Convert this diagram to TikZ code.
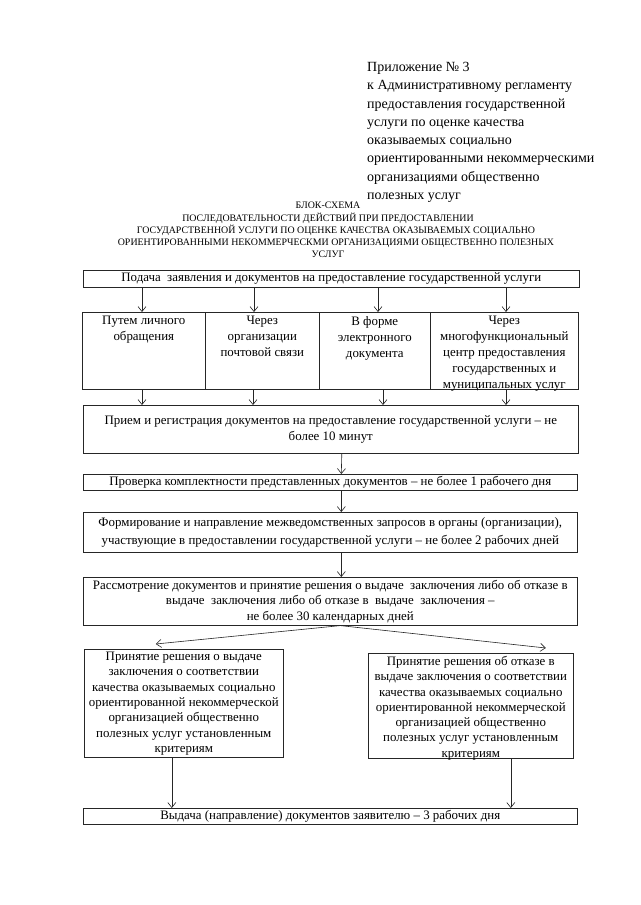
\documentclass[tikz,border=0pt]{standalone}
\usepackage{fontspec}
\setmainfont{Liberation Serif}
\usepackage{tikz}
\usetikzlibrary{positioning, arrows.meta, calc}

\begin{document}
\begin{tikzpicture}[x=1pt, y=-1pt,
  stepbox/.style={rectangle, draw=black!85, line width=0.6pt,
                  inner sep=0pt, anchor=north west},
  boxtext/.style={align=center, inner sep=0pt, text=black,
                  font=\fontsize{12.9}{16}\selectfont},
  arrowstyle/.style={-{Straight Barb[length=5pt, width=8pt]}, draw=black!85, line width=0.6pt}
]
\useasboundingbox[fill=white] (0,0) rectangle (640,905);

\node[anchor=north west, align=left, inner sep=0pt,
      font=\fontsize{14}{18.3}\selectfont] (annex) at (367,62)
  {Приложение № 3\\
   к Административному регламенту\\
   предоставления государственной\\
   услуги по оценке качества\\
   оказываемых социально\\
   ориентированными некоммерческими\\
   организациями общественно\\
   полезных услуг};
\node[anchor=north, align=center, inner sep=0pt,
      font=\fontsize{9.9}{12.3}\selectfont] (title) at (328,202)
  {БЛОК-СХЕМА\\
   ПОСЛЕДОВАТЕЛЬНОСТИ ДЕЙСТВИЙ ПРИ ПРЕДОСТАВЛЕНИИ\\
   \hspace*{16pt}ГОСУДАРСТВЕННОЙ УСЛУГИ ПО ОЦЕНКЕ КАЧЕСТВА ОКАЗЫВАЕМЫХ СОЦИАЛЬНО\\
   \hspace*{16pt}ОРИЕНТИРОВАННЫМИ НЕКОММЕРЧЕСКМИ ОРГАНИЗАЦИЯМИ ОБЩЕСТВЕННО ПОЛЕЗНЫХ\\
   УСЛУГ};

\node[stepbox, minimum width=496pt, minimum height=17pt] (submit) at (83,270) {};
\node[boxtext] at (submit) {Подача\ \ заявления и документов на предоставление государственной услуги};

\foreach \i/\xa/\xb/\din/\dout/\t in {%
  1/82/205/60/60/{Путем личного\\обращения},%
  2/205/319/49/48/{Через\\организации\\почтовой связи},%
  3/319/430/59/64/{В форме\\электронного\\документа},%
  4/430/578/76/76/{Через\\многофункциональный\\центр предоставления\\государственных и\\муниципальных услуг}%
} {
  \node[stepbox, minimum width={\xb-\xa}, minimum height=77pt] (way\i) at (\xa,312) {};
  \node[boxtext, anchor=north] at ([yshift=-4pt]way\i.north) {\t};
  \coordinate (in\i) at ([xshift=\din pt]way\i.north west);
  \coordinate (out\i) at ([xshift=\dout pt]way\i.south west);
}

\node[stepbox, minimum width=495pt, minimum height=48pt] (reg) at (83,405) {};
\node[boxtext] at (reg) {Прием и регистрация документов на предоставление государственной услуги – не\\более 10 минут};

\node[stepbox, minimum width=494pt, minimum height=16pt] (check) at (83,474) {};
\node[boxtext] at (check) {Проверка комплектности представленных документов – не более 1 рабочего дня};

\node[stepbox, minimum width=494pt, minimum height=40pt] (form) at (83,512) {};
\node[boxtext, font=\fontsize{12.9}{18}\selectfont] at (form)
  {Формирование и направление межведомственных запросов в органы (организации),\\
   участвующие в предоставлении государственной услуги – не более 2 рабочих дней};

\node[stepbox, minimum width=494pt, minimum height=48pt] (review) at (83,577) {};
\node[boxtext, font=\fontsize{12.9}{15.5}\selectfont] at (review)
  {Рассмотрение документов и принятие решения о выдаче\ \ заключения либо об отказе в\\
   выдаче\ \ заключения либо об отказе в\ \ выдаче\ \ заключения –\\
   не более 30 календарных дней};

\node[stepbox, minimum width=199pt, minimum height=108pt] (dleft) at (84,649) {};
\node[boxtext, anchor=north, font=\fontsize{12.9}{15.3}\selectfont] at ([yshift=-3pt]dleft.north)
  {Принятие решения о выдаче\\
   заключения о соответствии\\
   качества оказываемых социально\\
   ориентированной некоммерческой\\
   организацией общественно\\
   полезных услуг установленным\\
   критериям};

\node[stepbox, minimum width=205pt, minimum height=105pt] (dright) at (368,653) {};
\node[boxtext, anchor=north, font=\fontsize{12.9}{15.3}\selectfont] at ([yshift=-3pt]dright.north)
  {Принятие решения об отказе в\\
   выдаче заключения о соответствии\\
   качества оказываемых социально\\
   ориентированной некоммерческой\\
   организацией общественно\\
   полезных услуг установленным\\
   критериям};

\node[stepbox, minimum width=494pt, minimum height=16pt] (issue) at (83,808) {};
\node[boxtext] at (issue) {Выдача (направление) документов заявителю – 3 рабочих дня};

\foreach \i in {1,2,3,4} {
  \draw[arrowstyle] (in\i |- submit.south) -- (in\i);
  \draw[arrowstyle] (out\i) -- (out\i |- reg.north);
}
\draw[arrowstyle] ([xshift=11pt]reg.south) -- ([xshift=11pt]check.north);
\draw[arrowstyle] ([xshift=11pt]check.south) -- ([xshift=11pt]form.north);
\draw[arrowstyle] ([xshift=11pt]form.south) -- ([xshift=11pt]review.north);

\coordinate (fork) at ([xshift=10pt]review.south);
\draw[arrowstyle] (fork) -- ([xshift=-28pt, yshift=5pt]dleft.north);
\draw[arrowstyle] (fork) -- ([xshift=75pt, yshift=5pt]dright.north);

\coordinate (yes) at ([xshift=-12pt]dleft.south);
\coordinate (no) at ([xshift=40pt]dright.south);
\draw[arrowstyle] (yes) -- (yes |- issue.north);
\draw[arrowstyle] (no) -- (no |- issue.north);
\end{tikzpicture}
\end{document}
